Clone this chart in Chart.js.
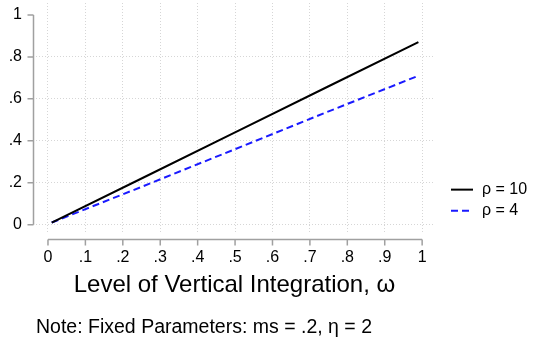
<!DOCTYPE html>
<html>
<head>
<meta charset="utf-8">
<script src="https://cdn.jsdelivr.net/npm/chart.js@4"></script>
<style>
  html, body { margin: 0; padding: 0; background: #fff; }
  #caja { width: 542px; height: 339px; }
</style>
</head>
<body>
<div id="caja"><canvas id="grafico"></canvas></div>
<script>
// DATOS
const omega = [0.01, 0.25, 0.5, 0.75, 0.99];
const rho10 = [0.01, 0.22, 0.44, 0.66, 0.87];
const rho4 = [0.01, 0.18, 0.36, 0.54, 0.71];
const etiquetasSeries = ['ρ = 10', 'ρ = 4'];
const ticksX = [0, 0.1, 0.2, 0.3, 0.4, 0.5, 0.6, 0.7, 0.8, 0.9, 1];
const etiquetasX = ['0', '.1', '.2', '.3', '.4', '.5', '.6', '.7', '.8', '.9', '1'];
const ticksY = [0, 0.2, 0.4, 0.6, 0.8, 1];
const etiquetasY = ['0', '.2', '.4', '.6', '.8', '1'];

const FUENTE = '"Liberation Sans", Arial, sans-serif';
const GRIS_EJE = '#a0a0a0';
const GRIS_GRID = '#d6d6d6';

// ejes estilo Stata: solo de 0 a 1 y separados del area
const ejesStata = {
    id: 'ejesStata',
    afterDraw(chart) {
        const { ctx, chartArea, scales: { x, y } } = chart;
        ctx.save();
        ctx.strokeStyle = GRIS_EJE;
        ctx.lineWidth = 1.5;
        // eje y
        let ex = chartArea.left - 2.5;
        ctx.beginPath();
        ctx.moveTo(ex, y.getPixelForValue(1));
        ctx.lineTo(ex, y.getPixelForValue(0));
        ticksY.forEach(v => {
            ctx.moveTo(ex, y.getPixelForValue(v));
            ctx.lineTo(ex - 6, y.getPixelForValue(v));
        });
        ctx.stroke();
        // eje x
        let ey = chartArea.bottom + 7;
        ctx.beginPath();
        ctx.moveTo(x.getPixelForValue(0), ey);
        ctx.lineTo(x.getPixelForValue(1), ey);
        ticksX.forEach(v => {
            ctx.moveTo(x.getPixelForValue(v), ey);
            ctx.lineTo(x.getPixelForValue(v), ey + 6);
        });
        ctx.stroke();
        ctx.restore();
    }
};

// leyenda a la derecha, abajo
const leyendaDerecha = {
    id: 'leyendaDerecha',
    afterDraw(chart) {
        const { ctx, chartArea, scales: { y } } = chart;
        let y0 = y.getPixelForValue(0);
        let filas = [y0 - 35, y0 - 14];
        ctx.save();
        chart.data.datasets.forEach((ds, i) => {
            let fy = filas[i];
            ctx.strokeStyle = ds.borderColor;
            ctx.lineWidth = ds.borderWidth;
            ctx.setLineDash(ds.borderDash || []);
            ctx.beginPath();
            ctx.moveTo(chartArea.right + 18, fy);
            ctx.lineTo(chartArea.right + 40, fy);
            ctx.stroke();
            ctx.setLineDash([]);
            ctx.fillStyle = '#000';
            ctx.font = '16px ' + FUENTE;
            ctx.textBaseline = 'middle';
            ctx.textAlign = 'left';
            ctx.fillText(ds.label, chartArea.right + 49, fy);
        });
        ctx.restore();
    }
};

let ctx = document.getElementById('grafico').getContext('2d');
let miGrafico = new Chart(ctx, {
    type: 'line',
    data: {
        labels: omega,
        datasets: [{
            label: etiquetasSeries[0],
            data: omega.map((w, i) => ({ x: w, y: rho10[i] })),
            borderColor: '#000000',
            borderWidth: 2,
            pointRadius: 0,
            fill: false,
            tension: 0
        }, {
            label: etiquetasSeries[1],
            data: omega.map((w, i) => ({ x: w, y: rho4[i] })),
            borderColor: '#1a1aff',
            borderWidth: 2,
            borderDash: [7, 4],
            pointRadius: 0,
            fill: false,
            tension: 0
        }]
    },
    options: {
        responsive: true,
        maintainAspectRatio: false,
        animation: false,
        layout: { padding: { top: 3, left: 0, right: 109, bottom: 0 } },
        plugins: {
            legend: { display: false },
            tooltip: { enabled: false },
            title: {
                display: true,
                position: 'bottom',
                align: 'start',
                fullSize: false,
                text: 'Note: Fixed Parameters: ms = .2, η = 2',
                color: '#000',
                font: { family: FUENTE, size: 19.5, weight: 'normal' },
                padding: { top: 3, bottom: 0 }
            }
        },
        scales: {
            x: {
                type: 'linear',
                min: -0.032,
                max: 1.029,
                afterBuildTicks: s => { s.ticks = ticksX.map(v => ({ value: v })); },
                afterFit: s => {
                    s.height = 80;
                    s.paddingLeft = 0; s.paddingRight = 0; s.paddingTop = 0; s.paddingBottom = 0;
                },
                ticks: {
                    color: '#000',
                    font: { family: FUENTE, size: 16 },
                    padding: 15,
                    maxRotation: 0,
                    autoSkip: false,
                    callback: (v, i) => etiquetasX[i]
                },
                grid: { color: GRIS_GRID, lineWidth: 1, drawTicks: false },
                border: { display: false, dash: [1, 2] },
                title: {
                    display: true,
                    text: 'Level of Vertical Integration, ω',
                    color: '#000',
                    font: { family: FUENTE, size: 24 },
                    padding: { top: 0, bottom: 13 }
                }
            },
            y: {
                type: 'linear',
                min: -0.038,
                max: 1.057,
                afterBuildTicks: s => { s.ticks = ticksY.map(v => ({ value: v })); },
                afterFit: s => {
                    s.width = 36;
                    s.paddingLeft = 0; s.paddingRight = 0; s.paddingTop = 0; s.paddingBottom = 0;
                },
                ticks: {
                    color: '#000',
                    font: { family: FUENTE, size: 16 },
                    padding: 14,
                    callback: (v, i) => etiquetasY[i]
                },
                grid: {
                    color: c => (c.tick && c.tick.value === 1) ? 'rgba(0,0,0,0)' : GRIS_GRID,
                    lineWidth: 1,
                    drawTicks: false
                },
                border: { display: false, dash: [1, 2] }
            }
        }
    },
    plugins: [ejesStata, leyendaDerecha]
});
</script>
</body>
</html>
